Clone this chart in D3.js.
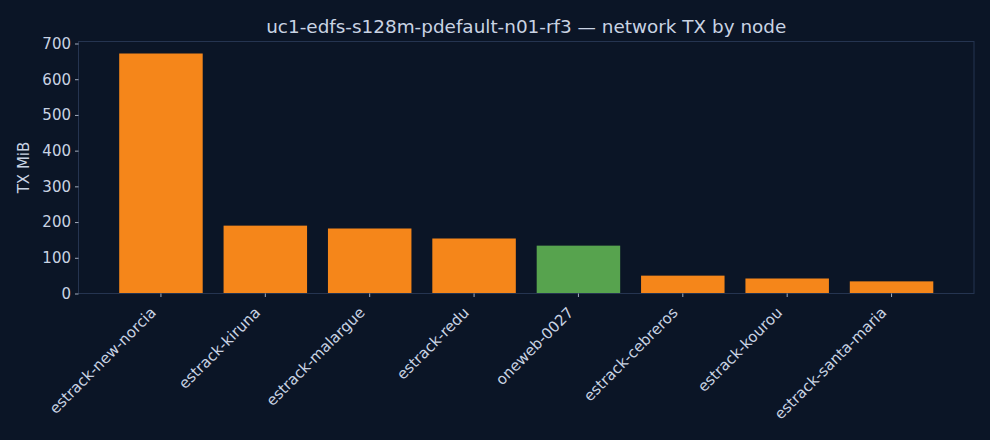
<!DOCTYPE html>
<html>
<head>
<meta charset="utf-8">
<script src="https://cdn.jsdelivr.net/npm/d3@7"></script>
<style>
  html, body { margin: 0; padding: 0; background: #0b1526; }
  svg { display: block; font-family: "DejaVu Sans", sans-serif; }
</style>
</head>
<body>
<svg id="drawing_region"></svg>
<script>
// data
const nodes = ["estrack-new-norcia", "estrack-kiruna", "estrack-malargue", "estrack-redu",
               "oneweb-0027", "estrack-cebreros", "estrack-kourou", "estrack-santa-maria"];
const tx_mib = [672, 190, 182, 154, 134, 50, 42, 34];
const node_kind = ["ground", "ground", "ground", "ground", "sat", "ground", "ground", "ground"];
const y_ticks = [0, 100, 200, 300, 400, 500, 600, 700];

const data = nodes.map((n, i) => ({ label: n, value: tx_mib[i], kind: node_kind[i] }));

const config = {
    width: 990,
    height: 440,
    margin: { top: 41.5, right: 16, bottom: 146.5, left: 78.5 }
};
const colors = { ground: "#f5861a", sat: "#57a34e" };
const text_color = "#c9d3e3";
const spine_color = "#253450";

const svg = d3.select('#drawing_region')
    .attr('width', config.width)
    .attr('height', config.height);

svg.append('rect')
    .attr('width', config.width)
    .attr('height', config.height)
    .attr('fill', '#0b1526');

const inner_width = config.width - config.margin.left - config.margin.right;
const inner_height = config.height - config.margin.top - config.margin.bottom;

const chart = svg.append('g')
    .attr('transform', `translate(${config.margin.left}, ${config.margin.top})`);

const xscale = d3.scaleBand()
    .domain(nodes)
    .range([0, inner_width])
    .paddingInner(0.2)
    .paddingOuter(0.39);

const ymax = d3.max(tx_mib) * 1.05;
const yscale = d3.scaleLinear()
    .domain([0, ymax])
    .range([inner_height, 0]);

// bars
chart.selectAll('rect.bar').data(data).join('rect')
    .attr('class', 'bar')
    .attr('x', d => xscale(d.label))
    .attr('y', d => yscale(d.value))
    .attr('width', xscale.bandwidth())
    .attr('height', d => inner_height - yscale(d.value))
    .attr('fill', d => colors[d.kind]);

// frame
chart.append('rect')
    .attr('width', inner_width)
    .attr('height', inner_height)
    .attr('fill', 'none')
    .attr('stroke', spine_color)
    .attr('stroke-width', 1);

// axes
const xaxis_group = chart.append('g')
    .attr('transform', `translate(0, ${inner_height})`)
    .call(d3.axisBottom(xscale).tickSizeOuter(0).tickSize(3.5).tickPadding(4));

xaxis_group.selectAll('text')
    .attr('text-anchor', 'end')
    .attr('dy', null)
    .attr('transform', 'translate(-4, 20) rotate(-45)')
    .attr('y', 0)
    .attr('x', 0);

const yaxis_group = chart.append('g')
    .call(d3.axisLeft(yscale).tickValues(y_ticks).tickSizeOuter(0).tickSize(3.5).tickPadding(4));

[xaxis_group, yaxis_group].forEach(g => {
    g.select('.domain').remove();
    g.selectAll('line').attr('stroke', text_color).attr('stroke-width', 0.8);
    g.selectAll('text')
        .attr('fill', text_color)
        .attr('font-size', '15px')
        .attr('font-family', '"DejaVu Sans", sans-serif');
});

// titles
svg.append('text')
    .attr('x', config.margin.left + inner_width / 2)
    .attr('y', 32.5)
    .attr('fill', text_color)
    .attr('text-anchor', 'middle')
    .attr('font-size', '18.4px')
    .text('uc1-edfs-s128m-pdefault-n01-rf3 — network TX by node');

svg.append('text')
    .attr('transform', `translate(28.5, ${config.margin.top + inner_height / 2}) rotate(-90)`)
    .attr('fill', text_color)
    .attr('text-anchor', 'middle')
    .attr('font-size', '15px')
    .text('TX MiB');
</script>
</body>
</html>
